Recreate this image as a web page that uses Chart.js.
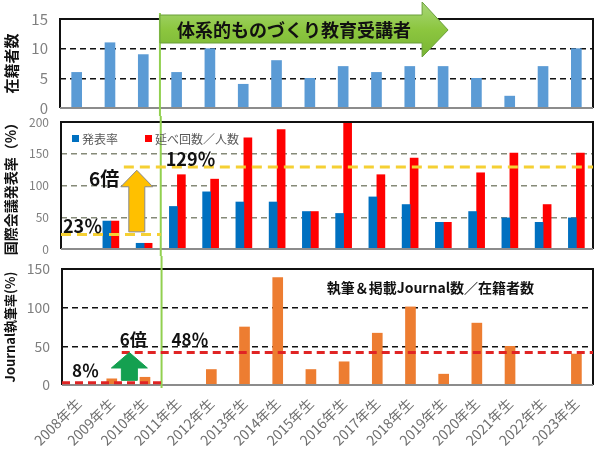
<!DOCTYPE html>
<html>
<head>
<meta charset="utf-8">
<script src="https://cdn.jsdelivr.net/npm/chart.js@4.4.0/dist/chart.umd.min.js"></script>
<style>
  body { margin: 0; background: #fff; }
  #wrap { position: relative; width: 600px; height: 455px; }
  #wrap canvas { position: absolute; left: 0; }
</style>
</head>
<body>
<div id="wrap">
  <canvas id="enrolled-target" width="600" height="116" style="top:0"></canvas>
  <canvas id="present-target" width="600" height="140" style="top:116px"></canvas>
  <canvas id="journal-target" width="600" height="199" style="top:256px"></canvas>
</div>
<script>
const years = ['2008年生', '2009年生', '2010年生', '2011年生', '2012年生', '2013年生', '2014年生', '2015年生',
    '2016年生', '2017年生', '2018年生', '2019年生', '2020年生', '2021年生', '2022年生', '2023年生']
const enrolled = [6, 11, 9, 6, 10, 4, 8, 5, 7, 6, 7, 7, 5, 2, 7, 10]
const presentRate = [null, 44, 9, 67, 90, 74, 74, 59, 56, 82, 70, 42, 59, 49, 42, 49]
const presentCount = [null, 44, 9, 117, 110, 175, 188, 59, 200, 117, 143, 42, 120, 151, 70, 151]
const journalRate = [null, 8, 10, 0, 20, 75, 139, 20, 30, 67, 101, 14, 80, 50, 0, 40]
// before / after averages shown as dashed lines
const presentLines = [23, 129]
const journalLines = [3, 42]

const FONT = "'Noto Sans CJK JP', 'Noto Sans', sans-serif"
const GREY = '#7f7f7f'
Chart.defaults.font.family = FONT
Chart.defaults.animation = false

function hline(ctx, x1, x2, y, color, width, dash) {
    ctx.save()
    ctx.strokeStyle = color
    ctx.lineWidth = width
    ctx.setLineDash(dash)
    ctx.beginPath()
    ctx.moveTo(x1, y)
    ctx.lineTo(x2, y)
    ctx.stroke()
    ctx.restore()
}

function frame(chart) {
    const a = chart.chartArea
    const ctx = chart.ctx
    ctx.save()
    ctx.lineWidth = 2
    ctx.strokeStyle = '#111'
    ctx.beginPath()
    ctx.moveTo(a.left, a.bottom)
    ctx.lineTo(a.left, a.top)
    ctx.lineTo(a.right, a.top)
    ctx.lineTo(a.right, a.bottom)
    ctx.stroke()
    ctx.strokeStyle = '#8c8c8c'
    ctx.beginPath()
    ctx.moveTo(a.left, a.bottom)
    ctx.lineTo(a.right, a.bottom)
    ctx.stroke()
    ctx.restore()
}

function greenLine(chart, y1, y2) {
    const x = chart.scales.x.getPixelForValue(2.5)
    const ctx = chart.ctx
    ctx.save()
    ctx.strokeStyle = '#92d050'
    ctx.lineWidth = 2
    ctx.beginPath()
    ctx.moveTo(x, y1)
    ctx.lineTo(x, y2)
    ctx.stroke()
    ctx.restore()
}

function upArrow(ctx, cx, yTip, yHead, yBase, headHalf, shaftHalf, fill, stroke) {
    ctx.save()
    ctx.fillStyle = fill
    ctx.strokeStyle = stroke
    ctx.lineWidth = 1
    ctx.beginPath()
    ctx.moveTo(cx, yTip)
    ctx.lineTo(cx + headHalf, yHead)
    ctx.lineTo(cx + shaftHalf, yHead)
    ctx.lineTo(cx + shaftHalf, yBase)
    ctx.lineTo(cx - shaftHalf, yBase)
    ctx.lineTo(cx - shaftHalf, yHead)
    ctx.lineTo(cx - headHalf, yHead)
    ctx.closePath()
    ctx.fill()
    ctx.stroke()
    ctx.restore()
}

function label(ctx, text, x, y, size) {
    ctx.save()
    ctx.font = 'bold ' + size + 'px ' + FONT
    ctx.fillStyle = '#111'
    ctx.textBaseline = 'alphabetic'
    ctx.textAlign = 'left'
    ctx.fillText(text, x, y)
    ctx.restore()
}

function yAxis(max, step, title, titleSize, tickSize, width, gridColor) {
    return {
        min: 0,
        max: max,
        afterFit: (s) => {
            s.width = width
            // keep the tick label gap from padding the chart area vertically
            s.paddingTop = 0
            s.paddingBottom = 0
        },
        ticks: { stepSize: step, color: GREY, font: { size: tickSize }, padding: 12 },
        grid: {
            drawTicks: false,
            lineWidth: 1.5,
            color: (c) => (c.tick && (c.tick.value === 0 || c.tick.value === max)) ? 'rgba(0,0,0,0)' : gridColor,
        },
        border: { display: false, dash: [6, 4] },
        title: { display: true, text: title, color: '#111', font: { size: titleSize, weight: 'bold' }, padding: { top: 2, bottom: 2 } },
    }
}

window.onload = () => {
    // 在籍者数
    new Chart(document.getElementById('enrolled-target'), {
        type: 'bar',
        data: {
            labels: years,
            datasets: [{ data: enrolled, backgroundColor: '#5b9bd5', barThickness: 10 }],
        },
        options: {
            responsive: false,
            layout: { padding: { top: 19, right: 7, bottom: 8, left: 0 } },
            plugins: { legend: { display: false }, tooltip: { enabled: false } },
            scales: {
                x: { display: false },
                y: yAxis(15, 5, '在籍者数', 15, 15, 60, '#111'),
            },
        },
        plugins: [{
            id: 'deco',
            afterDatasetsDraw(chart) {
                const ctx = chart.ctx
                const xs = chart.scales.x
                const a = chart.chartArea
                frame(chart)
                greenLine(chart, a.top - 6, chart.height)
                const x0 = xs.getPixelForValue(2.5)
                const xh = xs.getPixelForValue(10.37)
                const xt = xs.getPixelForValue(11.15)
                ctx.save()
                const g = ctx.createLinearGradient(0, 2, 0, 57)
                g.addColorStop(0, '#a9d77a')
                g.addColorStop(0.5, '#8cc63f')
                g.addColorStop(1, '#79b534')
                ctx.fillStyle = g
                ctx.strokeStyle = '#6a9f3a'
                ctx.lineWidth = 1
                ctx.beginPath()
                ctx.moveTo(x0, a.top - 4)
                ctx.lineTo(xh, a.top - 4)
                ctx.lineTo(xh, 2)
                ctx.lineTo(xt, 30)
                ctx.lineTo(xh, 57)
                ctx.lineTo(xh, 43)
                ctx.lineTo(x0, 43)
                ctx.closePath()
                ctx.fill()
                ctx.stroke()
                ctx.restore()
                label(ctx, '体系的ものづくり教育受講者', x0 + 17, 37, 18)
            },
        }],
    })

    // 国際会議発表率
    new Chart(document.getElementById('present-target'), {
        type: 'bar',
        data: {
            labels: years,
            datasets: [
                { label: '発表率', data: presentRate, backgroundColor: '#0070c0', barThickness: 8 },
                { label: '延べ回数／人数', data: presentCount, backgroundColor: '#ff0000', barThickness: 8 },
            ],
        },
        options: {
            responsive: false,
            layout: { padding: { top: 6, right: 7, bottom: 7, left: 0 } },
            plugins: { legend: { display: false }, tooltip: { enabled: false } },
            scales: {
                x: { display: false },
                y: yAxis(200, 50, '国際会議発表率（%）', 14, 12, 61, '#858a78'),
            },
        },
        plugins: [{
            id: 'deco',
            afterDatasetsDraw(chart) {
                const ctx = chart.ctx
                const xs = chart.scales.x
                const ys = chart.scales.y
                const a = chart.chartArea
                frame(chart)
                greenLine(chart, 0, chart.height)
                const xv = xs.getPixelForValue(2.5)
                hline(ctx, a.left, xv, ys.getPixelForValue(presentLines[0]), '#f5d033', 3, [10, 6])
                hline(ctx, xs.getPixelForValue(1.39), a.right, ys.getPixelForValue(presentLines[1]), '#f5d033', 3, [10, 6])
                upArrow(ctx, xs.getPixelForValue(1.78), ys.getPixelForValue(124), ys.getPixelForValue(98),
                    ys.getPixelForValue(27), 16, 8, '#ffc000', '#8a8a8a')
                label(ctx, '6倍', xs.getPixelForValue(0.34), ys.getPixelForValue(100), 19)
                label(ctx, '23％', a.left + 2, ys.getPixelForValue(25), 18)
                label(ctx, '129％', xs.getPixelForValue(2.65), ys.getPixelForValue(130), 18)
                // legend
                ctx.save()
                ctx.font = '12px ' + FONT
                ctx.textBaseline = 'middle'
                const ly = a.top + 17
                ctx.fillStyle = '#0070c0'
                ctx.fillRect(a.left + 11, ly - 4, 7, 7)
                ctx.fillStyle = '#595959'
                ctx.fillText('発表率', a.left + 21, ly)
                ctx.fillStyle = '#ff0000'
                ctx.fillRect(a.left + 84, ly - 4, 7, 7)
                ctx.fillStyle = '#595959'
                ctx.fillText('延べ回数／人数', a.left + 94, ly)
                ctx.restore()
            },
        }],
    })

    // Journal執筆率
    new Chart(document.getElementById('journal-target'), {
        type: 'bar',
        data: {
            labels: years,
            datasets: [{ data: journalRate, backgroundColor: '#ed7d31', barThickness: 10 }],
        },
        options: {
            responsive: false,
            layout: { padding: { top: 13, right: 7, bottom: 0, left: 0 } },
            plugins: { legend: { display: false }, tooltip: { enabled: false } },
            scales: {
                x: {
                    afterFit: (s) => { s.height = 70 },
                    grid: { display: false },
                    border: { display: false },
                    ticks: { color: '#6f6f6f', font: { size: 14 }, minRotation: 45, maxRotation: 45, padding: 2, autoSkip: false },
                },
                y: yAxis(150, 50, 'Journal執筆率(%)', 13, 14, 62, '#111'),
            },
        },
        plugins: [{
            id: 'deco',
            afterDatasetsDraw(chart) {
                const ctx = chart.ctx
                const xs = chart.scales.x
                const ys = chart.scales.y
                const a = chart.chartArea
                frame(chart)
                greenLine(chart, 0, a.bottom + 3)
                const xv = xs.getPixelForValue(2.5)
                hline(ctx, a.left, xv, ys.getPixelForValue(journalLines[0]), '#e02424', 3, [8, 5])
                hline(ctx, xs.getPixelForValue(1.3), a.right, ys.getPixelForValue(journalLines[1]), '#e02424', 3, [8, 5])
                upArrow(ctx, xs.getPixelForValue(1.53), ys.getPixelForValue(42), ys.getPixelForValue(22),
                    ys.getPixelForValue(6), 18, 8, '#14a050', '#14a050')
                label(ctx, '6倍', xs.getPixelForValue(1.24), ys.getPixelForValue(50), 17)
                label(ctx, '48％', xs.getPixelForValue(2.8), ys.getPixelForValue(50), 17)
                label(ctx, '8％', xs.getPixelForValue(-0.2), ys.getPixelForValue(10), 17)
                ctx.save()
                ctx.font = 'bold 14px ' + FONT
                ctx.fillStyle = '#111'
                ctx.textAlign = 'center'
                ctx.textBaseline = 'middle'
                ctx.fillText('執筆＆掲載Journal数／在籍者数', xs.getPixelForValue(10.6), a.top + 19)
                ctx.restore()
            },
        }],
    })
}
</script>
</body>
</html>
